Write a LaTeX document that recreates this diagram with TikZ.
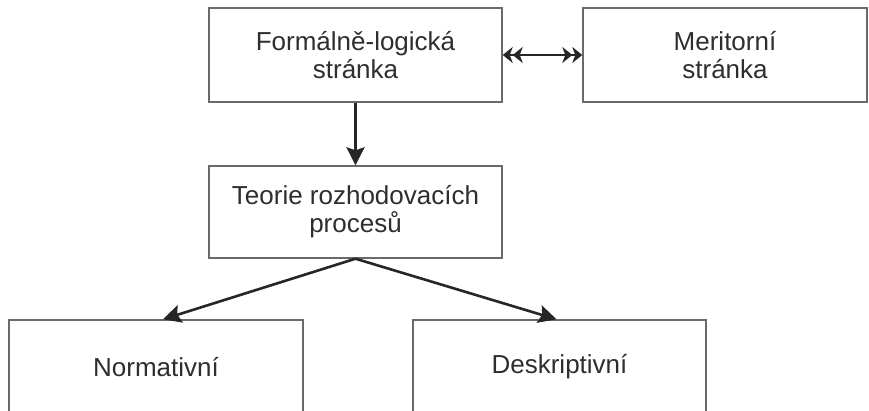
\documentclass[tikz,border=0pt]{standalone}
\usepackage{fontspec}
\setmainfont{Liberation Sans}
\usetikzlibrary{arrows.meta}
\definecolor{boxline}{HTML}{6A6A6A}
\definecolor{ink}{HTML}{262626}
\definecolor{txt}{HTML}{2E2E2E}
\tikzset{
  box/.style={draw=boxline, line width=1.4pt, fill=white, align=center,
    text=txt, font=\fontsize{26}{28}\selectfont, inner sep=0pt},
  arr/.style={draw=ink, line width=2.6pt,
    -{Stealth[length=18pt,width=18pt,inset=3pt]}},
  dbl/.style={draw=ink, line width=2.4pt,
    {Stealth[length=10pt,width=16pt,inset=3pt]Stealth[length=10pt,width=16pt,inset=3pt]}-{Stealth[length=10pt,width=16pt,inset=3pt]Stealth[length=10pt,width=16pt,inset=3pt]}}
}
\begin{document}
\begin{tikzpicture}[x=1pt,y=-1pt]
  \useasboundingbox (0,0) rectangle (869,410);
  \clip (0,0) rectangle (869,410);
  \fill[white] (0,0) rectangle (869,410);

  % upper row
  \node[box, minimum width=293pt, minimum height=94pt] (f) at (355.5,55) {Formálně-logická\\stránka};
  \node[box, minimum width=284pt, minimum height=94pt] (m) at (725,55) {Meritorní\\stránka};

  % middle
  \node[box, minimum width=293pt, minimum height=92pt] (t) at (355.5,212) {Teorie rozhodovacích\\procesů};

  % lower row (bottom edges run past the page)
  \node[box, minimum width=294pt, minimum height=94pt] (n) at (156,367) {Normativní};
  \node[box, minimum width=293pt, minimum height=94pt] (d) at (559.5,367) {Deskriptivní};

  % connectors
  \draw[dbl] (f.east) -- (m.west);
  \draw[arr] (f.south) -- (t.north);
  \draw[arr] (t.south) -- ([xshift=7pt]n.north);
  \draw[arr] (t.south) -- ([xshift=-3pt]d.north);
\end{tikzpicture}
\end{document}
